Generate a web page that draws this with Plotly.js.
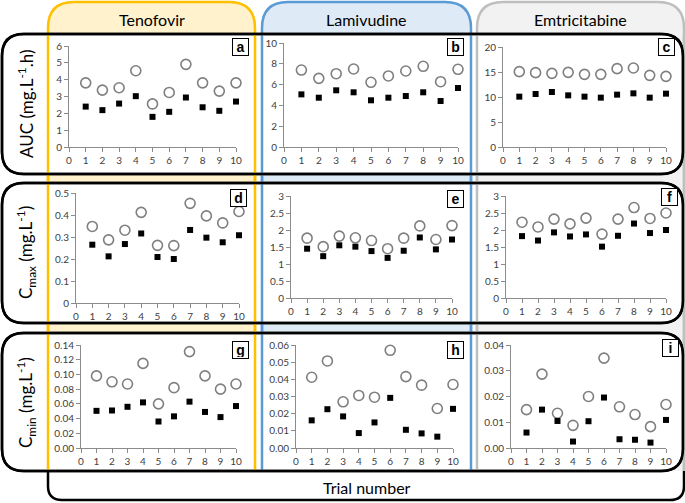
<!DOCTYPE html>
<html>
<head>
<meta charset="utf-8">
<script src="https://cdn.plot.ly/plotly-3.0.1.min.js"></script>
<style>
  body { margin: 0; background: #fff; }
  #chart { width: 685px; height: 503px; }
</style>
</head>
<body>
<div id="chart"></div>
<script>
var trials = [1, 2, 3, 4, 5, 6, 7, 8, 9, 10];
var drugs = ['Tenofovir', 'Lamivudine', 'Emtricitabine'];
var panelLetters = ['a', 'b', 'c', 'd', 'e', 'f', 'g', 'h', 'i'];

// AUC (mg.L-1.h): open circles / filled squares
var aucTenoCircle = [3.81, 3.38, 3.52, 4.53, 2.56, 3.24, 4.91, 3.81, 3.32, 3.81];
var aucTenoSquare = [2.40, 2.19, 2.58, 3.02, 1.79, 2.09, 2.94, 2.36, 2.15, 2.70];
var aucLamiCircle = [7.40, 6.60, 7.05, 7.50, 6.22, 6.83, 7.31, 7.76, 6.28, 7.47];
var aucLamiSquare = [5.06, 4.74, 5.45, 5.26, 4.49, 4.74, 4.90, 5.26, 4.42, 5.67];
var aucEmtrCircle = [15.07, 14.87, 14.73, 14.93, 14.53, 14.53, 15.67, 15.80, 14.33, 14.13];
var aucEmtrSquare = [10.07, 10.60, 11.00, 10.33, 10.07, 9.87, 10.47, 10.73, 9.87, 10.67];

// Cmax (mg.L-1)
var cmaxTenoCircle = [0.348, 0.287, 0.331, 0.412, 0.262, 0.261, 0.453, 0.396, 0.364, 0.416];
var cmaxTenoSquare = [0.265, 0.212, 0.268, 0.316, 0.209, 0.200, 0.332, 0.297, 0.276, 0.308];
var cmaxLamiCircle = [1.76, 1.51, 1.82, 1.77, 1.69, 1.45, 1.76, 2.12, 1.72, 2.13];
var cmaxLamiSquare = [1.45, 1.23, 1.55, 1.51, 1.38, 1.18, 1.39, 1.78, 1.43, 1.72];
var cmaxEmtrCircle = [2.23, 2.09, 2.32, 2.18, 2.35, 1.88, 2.32, 2.66, 2.34, 2.50];
var cmaxEmtrSquare = [1.82, 1.69, 1.93, 1.81, 1.87, 1.51, 1.83, 2.19, 1.91, 2.00];

// Cmin (mg.L-1)
var cminTenoCircle = [0.098, 0.090, 0.087, 0.115, 0.060, 0.082, 0.131, 0.098, 0.080, 0.087];
var cminTenoSquare = [0.0505, 0.051, 0.056, 0.062, 0.036, 0.043, 0.063, 0.049, 0.042, 0.057];
var cminLamiCircle = [0.0412, 0.0507, 0.0269, 0.0306, 0.0296, 0.0569, 0.0416, 0.0366, 0.0230, 0.0370];
var cminLamiSquare = [0.0161, 0.0226, 0.0184, 0.0087, 0.0149, 0.0292, 0.0106, 0.0085, 0.0066, 0.0228];
var cminEmtrCircle = [0.0149, 0.0287, 0.0135, 0.0088, 0.0200, 0.0349, 0.0160, 0.0130, 0.0083, 0.0169];
var cminEmtrSquare = [0.0060, 0.0149, 0.0105, 0.0025, 0.0104, 0.0196, 0.0034, 0.0032, 0.0021, 0.0109];

var rowTitles = ['AUC (mg.L<sup>-1</sup>.h)', 'C<sub>max</sub> (mg.L<sup>-1</sup>)', 'C<sub>min</sub> (mg.L<sup>-1</sup>)'];

var circles = [aucTenoCircle, aucLamiCircle, aucEmtrCircle, cmaxTenoCircle, cmaxLamiCircle, cmaxEmtrCircle,
               cminTenoCircle, cminLamiCircle, cminEmtrCircle];
var squares = [aucTenoSquare, aucLamiSquare, aucEmtrSquare, cmaxTenoSquare, cmaxLamiSquare, cmaxEmtrSquare,
               cminTenoSquare, cminLamiSquare, cminEmtrSquare];
var yMax = [6, 10, 20, 0.5, 3, 3, 0.14, 0.06, 0.04];
var yStep = [1, 2, 5, 0.1, 0.5, 0.5, 0.02, 0.01, 0.01];
var yFmt = ['', '', '', '', '', '', '.2f', '.2f', '.2f'];

// layout in pixels (page is 685 x 503, no margins)
var W = 685, H = 503;
function px(x) { return x / W; }
function py(y) { return 1 - y / H; }

var boxes = [ // [x0, x1, ytop, ybottom] of each plot area
  [69, 236, 46, 147], [284, 458, 43, 147], [503, 666, 47, 147],
  [76, 239, 193, 303], [291, 452, 196, 298], [506, 666, 196, 298],
  [81, 236, 345, 448], [296, 453, 345, 448], [511, 666, 345, 448]
];
var letterPos = [[240, 47], [455, 47], [666, 47], [238, 198], [455, 199], [669, 197],
                 [240, 350], [455, 350], [670, 348]];

var tickFont = {family: 'Lato, Liberation Sans, sans-serif', size: 10, color: '#404040'};
var traces = [];
var layout = {
  width: W, height: H,
  margin: {l: 0, r: 0, t: 0, b: 0},
  paper_bgcolor: '#fff',
  plot_bgcolor: 'rgba(0,0,0,0)',
  showlegend: false,
  font: {family: 'Lato, Liberation Sans, sans-serif'},
  shapes: [],
  annotations: []
};

for (var k = 0; k < 9; k++) {
  var n = k + 1;
  var xa = 'x' + (n === 1 ? '' : n), ya = 'y' + (n === 1 ? '' : n);
  traces.push({
    x: trials, y: circles[k], xaxis: xa, yaxis: ya, type: 'scatter', mode: 'markers', cliponaxis: false,
    marker: {symbol: 'circle-open', size: 10, color: '#7f7f7f', line: {width: 1.6, color: '#7f7f7f'}}
  });
  traces.push({
    x: trials, y: squares[k], xaxis: xa, yaxis: ya, type: 'scatter', mode: 'markers', cliponaxis: false,
    marker: {symbol: 'square', size: 6, color: '#000'}
  });
  var b = boxes[k];
  var axBase = {showline: true, linecolor: '#8c8c8c', linewidth: 1, ticks: 'outside', ticklen: 4,
                tickcolor: '#8c8c8c', showgrid: false, zeroline: false, tickfont: tickFont, fixedrange: true};
  layout['xaxis' + (n === 1 ? '' : n)] = Object.assign({}, axBase, {
    domain: [px(b[0]), px(b[1])], anchor: ya, range: [0, 10], dtick: 1, tick0: 0
  });
  layout['yaxis' + (n === 1 ? '' : n)] = Object.assign({}, axBase, {
    domain: [py(b[3]), py(b[2])], anchor: xa, range: [0, yMax[k]], dtick: yStep[k], tick0: 0,
    tickformat: yFmt[k]
  });
  layout.annotations.push({
    xref: 'paper', yref: 'paper', x: px(letterPos[k][0]), y: py(letterPos[k][1]),
    xanchor: 'center', yanchor: 'middle', text: '<b>' + panelLetters[k] + '</b>', showarrow: false,
    font: {family: 'Liberation Sans, Arial, sans-serif', size: 14, color: '#000'},
    bgcolor: '#fff', bordercolor: '#000', borderwidth: 1, borderpad: 1, width: 13, height: 14
  });
}

// column frames (drugs)
var cols = [[48, 255, '#FFC000', '#FFF2CC'], [262, 471, '#5B9BD5', '#DEEBF7'], [477, 684, '#BFBFBF', '#F2F2F2']];
var rows = [[34, 174], [183, 323], [333, 471]];
var rc = 26, rr = 22;

function topRounded(x0, x1, y0, y1, r) {
  return 'M' + px(x0) + ',' + py(y1) + ' L' + px(x0) + ',' + py(y0 + r) +
    ' Q' + px(x0) + ',' + py(y0) + ' ' + px(x0 + r) + ',' + py(y0) +
    ' L' + px(x1 - r) + ',' + py(y0) +
    ' Q' + px(x1) + ',' + py(y0) + ' ' + px(x1) + ',' + py(y0 + r) +
    ' L' + px(x1) + ',' + py(y1);
}
function roundRect(x0, x1, y0, y1, r) {
  return 'M' + px(x0 + r) + ',' + py(y0) + ' L' + px(x1 - r) + ',' + py(y0) +
    ' Q' + px(x1) + ',' + py(y0) + ' ' + px(x1) + ',' + py(y0 + r) +
    ' L' + px(x1) + ',' + py(y1 - r) +
    ' Q' + px(x1) + ',' + py(y1) + ' ' + px(x1 - r) + ',' + py(y1) +
    ' L' + px(x0 + r) + ',' + py(y1) +
    ' Q' + px(x0) + ',' + py(y1) + ' ' + px(x0) + ',' + py(y1 - r) +
    ' L' + px(x0) + ',' + py(y0 + r) +
    ' Q' + px(x0) + ',' + py(y0) + ' ' + px(x0 + r) + ',' + py(y0) + ' Z';
}

cols.forEach(function (c, i) {
  layout.shapes.push({type: 'path', xref: 'paper', yref: 'paper', layer: 'below',
    path: topRounded(c[0], c[1], 2, 471, rc), fillcolor: c[3], line: {color: c[2], width: 2.5}});
  layout.annotations.push({xref: 'paper', yref: 'paper', x: px((c[0] + c[1]) / 2), y: py(20),
    xanchor: 'center', yanchor: 'middle', text: drugs[i], showarrow: false,
    font: {family: 'Lato, Liberation Sans, sans-serif', size: 16, color: '#000'}});
});
rows.forEach(function (r) {
  layout.shapes.push({type: 'path', xref: 'paper', yref: 'paper', layer: 'below',
    path: roundRect(2, 683, r[0], r[1], rr), fillcolor: '#fff', line: {color: '#000', width: 2.5}});
});
cols.forEach(function (c) {
  [c[0], c[1]].forEach(function (x) {
    layout.shapes.push({type: 'line', xref: 'paper', yref: 'paper', layer: 'below',
      x0: px(x), x1: px(x), y0: py(34), y1: py(471), line: {color: c[2], width: 2.5}});
  });
});
rows.forEach(function (r) {
  layout.shapes.push({type: 'path', xref: 'paper', yref: 'paper', layer: 'below',
    path: roundRect(2, 683, r[0], r[1], rr), line: {color: '#000', width: 2.5}});
});
// trial number box
layout.shapes.push({type: 'path', xref: 'paper', yref: 'paper', layer: 'below',
  path: 'M' + px(48) + ',' + py(471) + ' L' + px(48) + ',' + py(486) +
    ' Q' + px(48) + ',' + py(500) + ' ' + px(62) + ',' + py(500) +
    ' L' + px(670) + ',' + py(500) +
    ' Q' + px(684) + ',' + py(500) + ' ' + px(684) + ',' + py(486) +
    ' L' + px(684) + ',' + py(471),
  line: {color: '#000', width: 2.5}});
layout.annotations.push({xref: 'paper', yref: 'paper', x: px(367), y: py(487),
  xanchor: 'center', yanchor: 'middle', text: 'Trial number', showarrow: false,
  font: {family: 'Lato, Liberation Sans, sans-serif', size: 16, color: '#000'}});

// row titles
var rowTitleY = [104, 253, 403];
rowTitles.forEach(function (t, i) {
  layout.annotations.push({xref: 'paper', yref: 'paper', x: px(26), y: py(rowTitleY[i]),
    xanchor: 'center', yanchor: 'middle', text: t, textangle: -90, showarrow: false,
    font: {family: 'Lato, Liberation Sans, sans-serif', size: 17, color: '#000'}});
});

Plotly.newPlot('chart', traces, layout, {displayModeBar: false, staticPlot: true});
</script>
</body>
</html>
